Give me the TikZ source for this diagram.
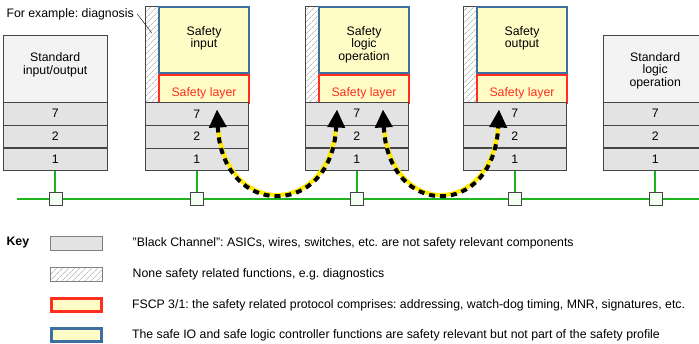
\documentclass[tikz,border=0pt]{standalone}
\usepackage{fontspec}
\setmainfont{Liberation Sans}
\usetikzlibrary{arrows.meta,positioning,calc,patterns.meta}
\frenchspacing
\definecolor{ChanGray}{HTML}{E3E3E3}
\definecolor{TopGray}{HTML}{F3F3F3}
\definecolor{EdgeGray}{HTML}{454545}
\definecolor{SafeYellow}{HTML}{FFFCC6}
\definecolor{SafeBlue}{HTML}{3D6FA3}
\definecolor{SafeRed}{HTML}{FF2E1F}
\definecolor{BusGreen}{HTML}{1EB41E}
\definecolor{TapGreen}{HTML}{F2FFF2}
\definecolor{DashYellow}{HTML}{FFEA00}

\begin{document}
\begin{tikzpicture}[
  x=1pt, y=-1pt,
  font=\fontsize{12.3}{12.8}\selectfont,
  stdbox/.style={draw=EdgeGray, fill=TopGray, minimum width=104pt, minimum height=67pt, inner sep=0pt},
  layer/.style={draw=EdgeGray, fill=ChanGray, minimum width=#1, minimum height=22.33pt, inner sep=0pt},
  layer/.default=103pt,
  hatch/.style={draw=EdgeGray, pattern={Lines[angle=45,distance=4pt,line width=0.5pt]}, pattern color=gray!80, minimum width=13pt, minimum height=96pt, inner sep=0pt},
  safebox/.style={draw=SafeBlue, line width=2pt, fill=SafeYellow, minimum width=90pt, minimum height=66pt, inner sep=0pt},
  safelayer/.style={draw=SafeRed, line width=2.5pt, fill=SafeYellow, text=SafeRed, minimum width=90pt, minimum height=28pt, inner sep=0pt, text height=14pt, text depth=0pt},
  boxtext/.style={anchor=north, align=center, inner sep=0pt, yshift=#1},
  tap/.style={draw=EdgeGray, fill=TapGreen, minimum size=13pt, inner sep=0pt},
  bus/.style={draw=BusGreen, line width=2pt},
  chanbase/.style={draw=DashYellow, line width=4pt, shorten <=12pt, shorten >=12pt},
  chan/.style={draw=black, line width=4pt, dash pattern=on 6pt off 5pt, <->, >={Triangle[length=18pt,width=17pt]}},
  keybox/.style={minimum width=52pt, minimum height=14pt, inner sep=0pt},
  keyfont/.style={font=\fontsize{12.3}{12.8}\selectfont\bfseries}
]
  \useasboundingbox (0,0) rectangle (699,344);

  % standard input/output
  \node[stdbox, anchor=north west, label={[boxtext=-17.5pt]north:Standard\\input/output}] (sio) at (3,35) {};
  \node[layer=104pt, below=0pt of sio] (sio7) {7};
  \node[layer=104pt, below=0pt of sio7] (sio2) {2};
  \node[layer=104pt, below=0pt of sio2] (sio1) {1};

  % safety input
  \node[hatch, anchor=north west] (hin) at (145,6) {};
  \node[safebox, anchor=north west, label={[boxtext=-20pt]north:Safety\\input}] (sin) at (158,6) {};
  \node[safelayer, below=0pt of sin] (lin) {Safety layer};
  \node[layer, below right=0pt of hin.south west] (sin7) {7};
  \node[layer, below=0pt of sin7] (sin2) {2};
  \node[layer, below=0pt of sin2] (sin1) {1};

  % safety logic operation
  \node[hatch, anchor=north west] (hlog) at (305,6) {};
  \node[safebox, anchor=north west, label={[boxtext=-20pt]north:Safety\\logic\\operation}] (slog) at (318,6) {};
  \node[safelayer, below=0pt of slog] (llog) {Safety layer};
  \node[layer, below right=0pt of hlog.south west] (slog7) {7};
  \node[layer, below=0pt of slog7] (slog2) {2};
  \node[layer, below=0pt of slog2] (slog1) {1};

  % safety output
  \node[hatch, anchor=north west] (hout) at (463,6) {};
  \node[safebox, anchor=north west, label={[boxtext=-20pt]north:Safety\\output}] (sout) at (476,6) {};
  \node[safelayer, below=0pt of sout] (lout) {Safety layer};
  \node[layer, below right=0pt of hout.south west] (sout7) {7};
  \node[layer, below=0pt of sout7] (sout2) {2};
  \node[layer, below=0pt of sout2] (sout1) {1};

  % standard logic operation
  \node[stdbox, anchor=north west, label={[boxtext=-17pt]north:Standard\\logic\\operation}] (stl) at (603,35) {};
  \node[layer=104pt, below=0pt of stl] (stl7) {7};
  \node[layer=104pt, below=0pt of stl7] (stl2) {2};
  \node[layer=104pt, below=0pt of stl2] (stl1) {1};

  % bus with taps
  \coordinate (busL) at (17,199);
  \coordinate (busR) at (712,199);
  \draw[bus] (busL) -- (busR);
  \foreach \m/\q in {sio1/q1, sin1/q2, slog1/q3, sout1/q4, stl1/q5} {
    \node[tap] (\q) at (\m.south |- busL) {};
    \draw[bus] (\m) -- (\q);
  }

  % black channel arcs
  \coordinate (a1) at ($(lin.south)+(13,5)$);
  \coordinate (a2) at ($(llog.south)+(-27,5)$);
  \coordinate (a3) at ($(llog.south)+(19,5)$);
  \coordinate (a4) at ($(lout.south)+(-23,5)$);
  \draw[chanbase] (a1) .. controls +(5,110) and +(-5,110) .. (a2);
  \draw[chan] (a1) .. controls +(5,110) and +(-5,110) .. (a2);
  \draw[chanbase] (a3) .. controls +(5,110) and +(-5,110) .. (a4);
  \draw[chan] (a3) .. controls +(5,110) and +(-5,110) .. (a4);

  % diagnosis callout
  \node[anchor=west] (diag) at (3,14) {For example: diagnosis};
  \coordinate (dg) at ($(hin.north)+(0,27)$);
  \draw (diag.east) -- (dg);

  % key
  \node[keyfont, anchor=west] (key) at (3,243) {Key};
  \node[keybox, draw=gray, fill=ChanGray] (k1) at (76,243.5) {};
  \node[hatch, keybox, draw=gray] (k2) at (76,274.5) {};
  \node[keybox, minimum width=50pt, minimum height=13pt, draw=SafeRed, line width=3pt, fill=SafeYellow] (k3) at (76,305) {};
  \node[keybox, minimum width=50pt, minimum height=13pt, draw=SafeBlue, line width=3pt, fill=SafeYellow] (k4) at (76,335.5) {};
  \node[right=27pt of k1] (t1) {\symbol{34}Black Channel\symbol{34}: ASICs, wires, switches, etc. are not safety relevant components};
  \node[right=27pt of k2] (t2) {None safety related functions, e.g. diagnostics};
  \node[right=26pt of k3] (t3) {FSCP 3/1: the safety related protocol comprises: addressing, watch-dog timing, MNR, signatures, etc.};
  \node[right=26pt of k4] (t4) {The safe IO and safe logic controller functions are safety relevant but not part of the safety profile};
\end{tikzpicture}
\end{document}
